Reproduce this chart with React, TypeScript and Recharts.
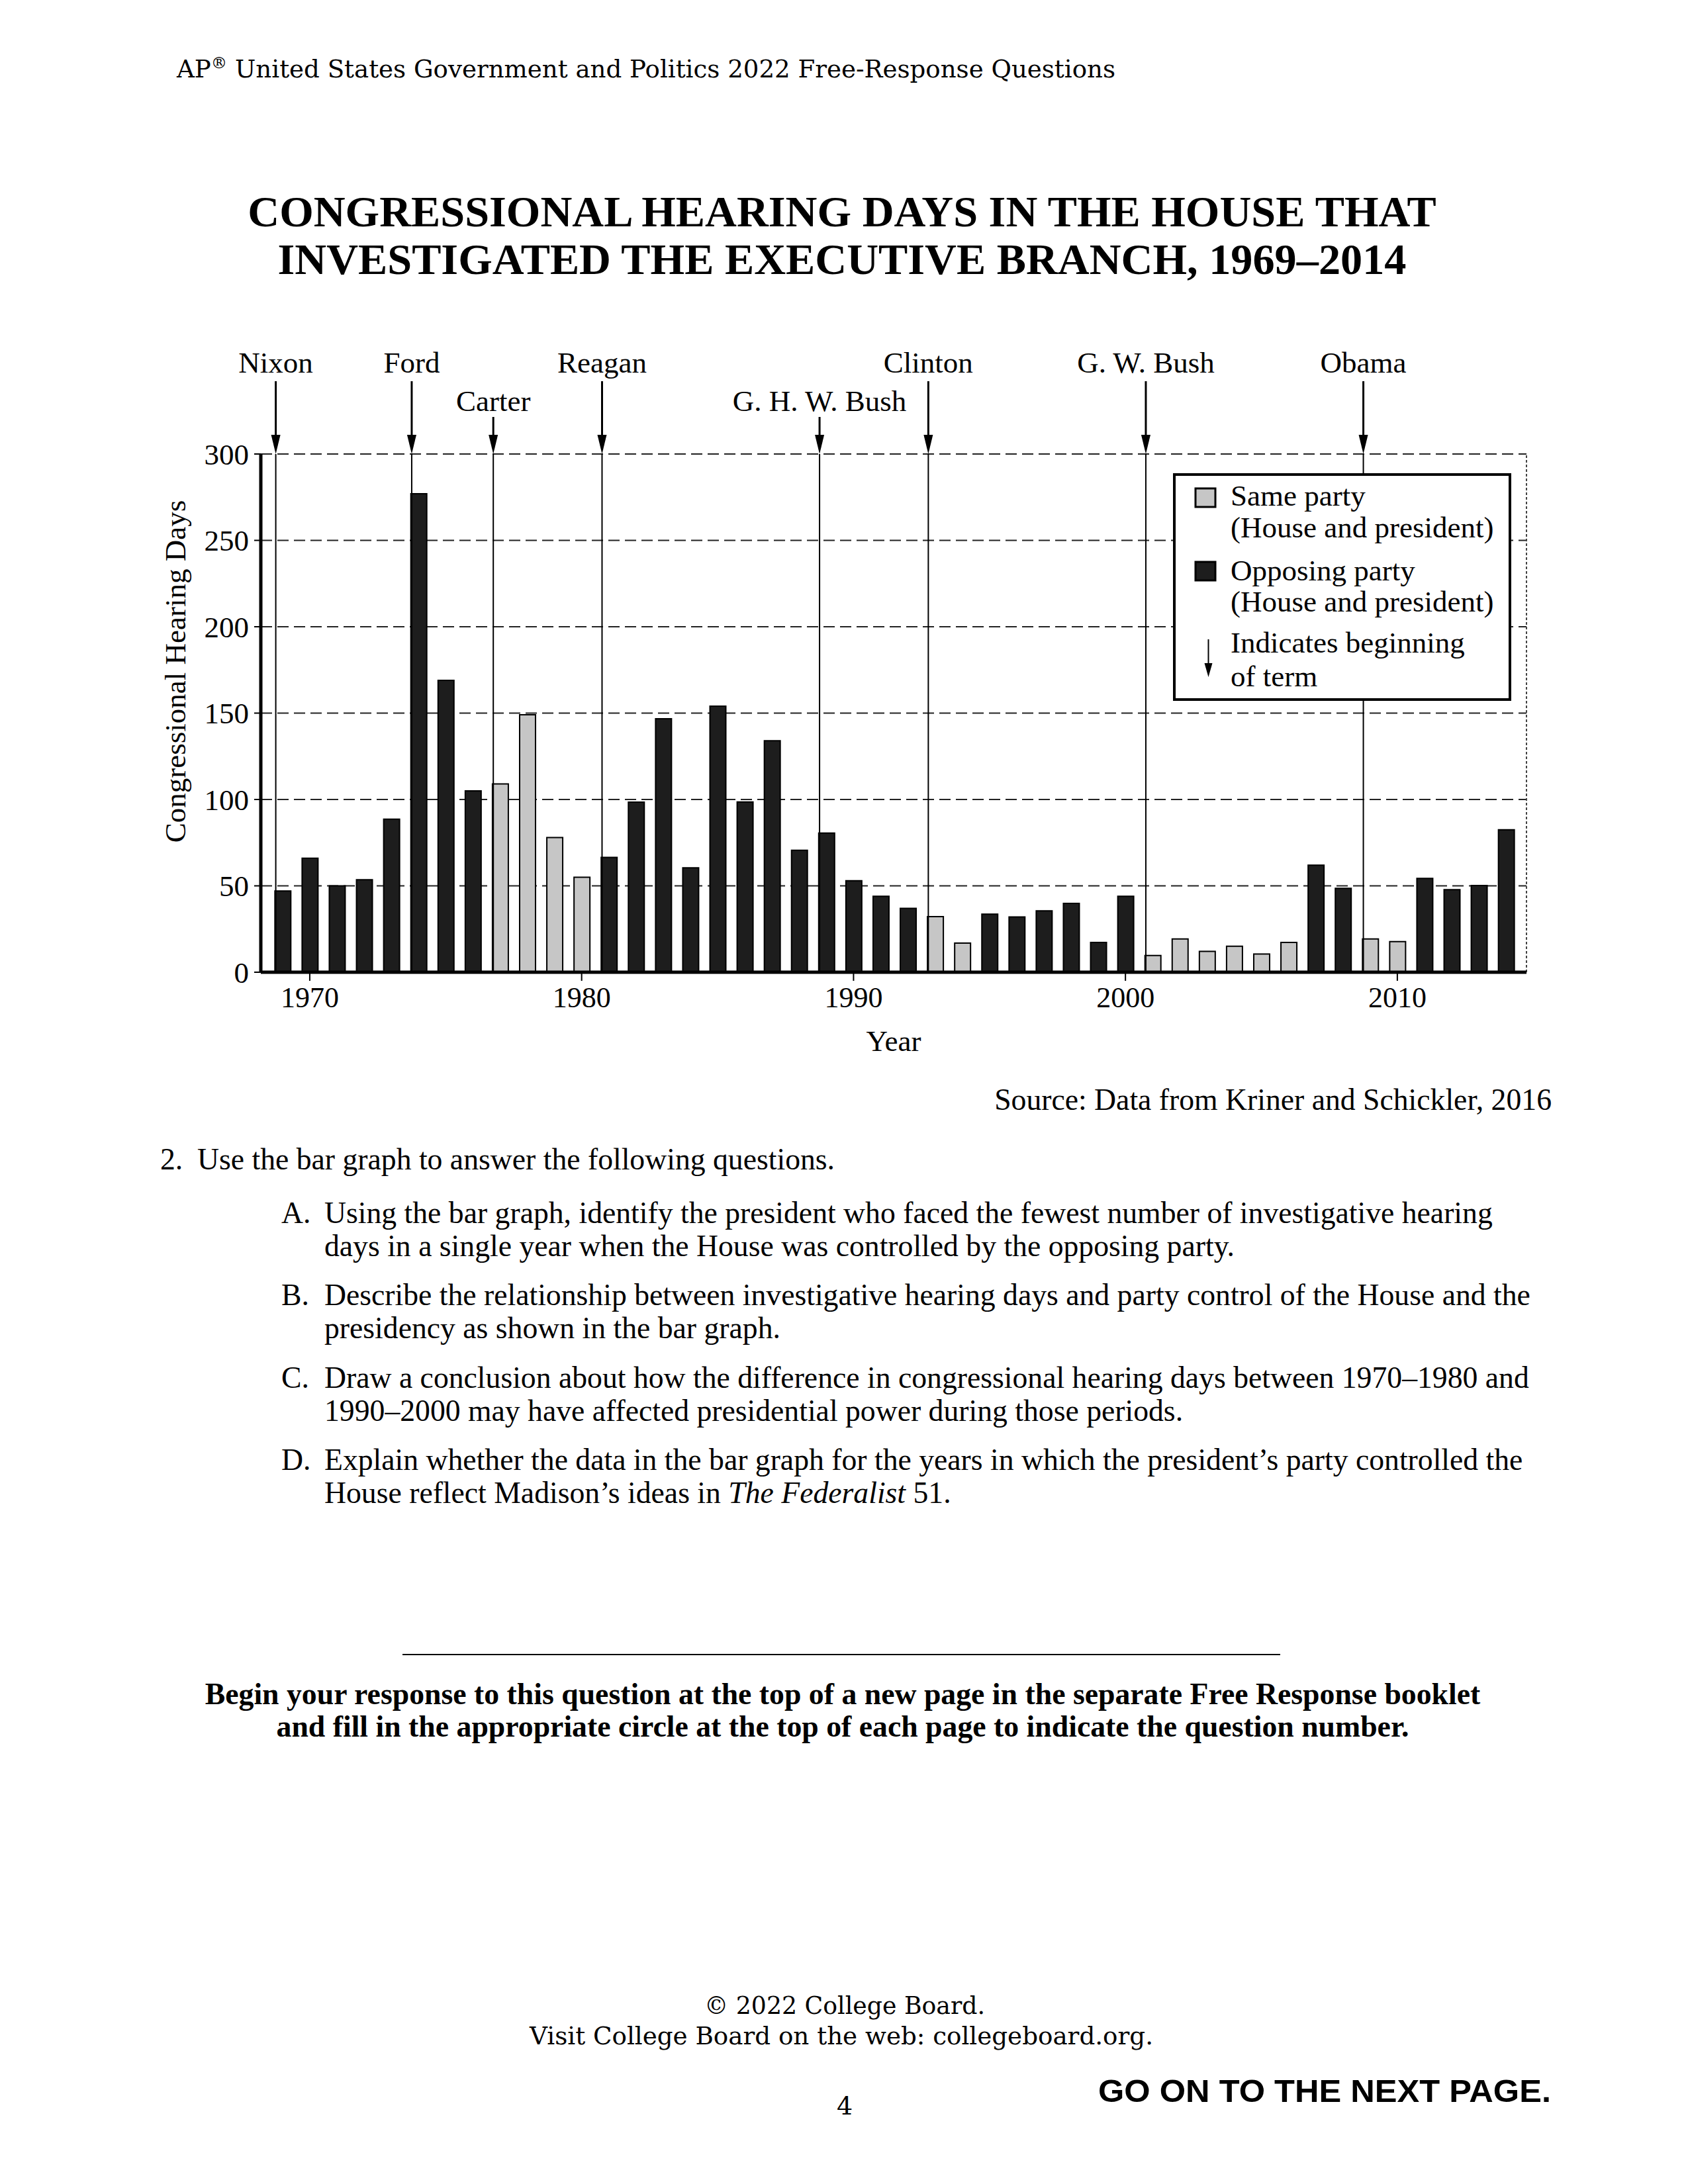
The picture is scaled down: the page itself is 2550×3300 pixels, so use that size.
import React from 'react';
import { BarChart, Bar, XAxis, YAxis, CartesianGrid, ReferenceLine, Cell } from 'recharts';

const FONT = '"Liberation Serif", "Times New Roman", serif';
const SLAB = '"DejaVu Serif", serif';
const SANS = '"Liberation Sans", Arial, sans-serif';

const years = [
  1969, 1970, 1971, 1972, 1973, 1974, 1975, 1976, 1977, 1978, 1979, 1980,
  1981, 1982, 1983, 1984, 1985, 1986, 1987, 1988, 1989, 1990, 1991, 1992,
  1993, 1994, 1995, 1996, 1997, 1998, 1999, 2000, 2001, 2002, 2003, 2004,
  2005, 2006, 2007, 2008, 2009, 2010, 2011, 2012, 2013, 2014,
];

const hearingDays = [
  47, 66, 50, 53.5, 88.6, 277, 169, 105, 109, 149, 78, 55,
  66.5, 98.5, 146.7, 60.4, 154, 98.6, 134, 70.6, 80.6, 53, 44, 37,
  32.2, 16.9, 33.6, 32, 35.5, 39.8, 17.2, 44, 9.7, 19.3, 12.1, 15,
  10.5, 17.2, 62, 48.6, 19.3, 17.7, 54.3, 47.8, 50.2, 82.5,
];

// 'S' = same party (House and president), 'O' = opposing party
const houseControl = [
  'O', 'O', 'O', 'O', 'O', 'O', 'O', 'O', 'S', 'S', 'S', 'S',
  'O', 'O', 'O', 'O', 'O', 'O', 'O', 'O', 'O', 'O', 'O', 'O',
  'S', 'S', 'O', 'O', 'O', 'O', 'O', 'O', 'S', 'S', 'S', 'S',
  'S', 'S', 'O', 'O', 'S', 'S', 'O', 'O', 'O', 'O',
];

const presidentNames = ['Nixon', 'Ford', 'Carter', 'Reagan', 'G. H. W. Bush', 'Clinton', 'G. W. Bush', 'Obama'];
const termStarts = [1968.75, 1973.75, 1976.75, 1980.75, 1988.75, 1992.75, 2000.75, 2008.75];
const labelRows = [0, 0, 1, 0, 1, 0, 0, 0];

const yTicks = [0, 50, 100, 150, 200, 250, 300];
const xTicks = [1970, 1980, 1990, 2000, 2010];

const SAME_FILL = '#c6c6c6';
const OPP_FILL = '#1d1d1d';

const chartData = years.map((year, i) => ({ year, days: hearingDays[i], control: houseControl[i] }));

function PresidentMarker(props: any) {
  const { viewBox, name, row } = props;
  if (!viewBox) return null;
  const x = viewBox.x;
  const y = viewBox.y;
  const textY = row === 0 ? y - 123 : y - 65;
  const shaftTop = row === 0 ? y - 110 : y - 56;
  return (
    <g>
      <text x={x} y={textY} textAnchor="middle" fontFamily={FONT} fontSize={45} fill="#000">
        {name}
      </text>
      <line x1={x} x2={x} y1={shaftTop} y2={y - 24} stroke="#000" strokeWidth={3} />
      <polygon points={`${x - 7},${y - 29} ${x + 7},${y - 29} ${x},${y}`} fill="#000" />
    </g>
  );
}

function YTitle(props: any) {
  const { viewBox } = props;
  if (!viewBox) return null;
  const bx = viewBox.x + 6;
  const cy = viewBox.y + viewBox.height / 2 - 63;
  return (
    <text
      x={bx}
      y={cy}
      transform={`rotate(-90, ${bx}, ${cy})`}
      textAnchor="middle"
      fontFamily={FONT}
      fontSize={45}
      fill="#000"
    >
      Congressional Hearing Days
    </text>
  );
}

function XTitle(props: any) {
  const { viewBox } = props;
  if (!viewBox) return null;
  return (
    <text
      x={viewBox.x + viewBox.width / 2}
      y={viewBox.y + 119}
      textAnchor="middle"
      fontFamily={FONT}
      fontSize={45}
      fill="#000"
    >
      Year
    </text>
  );
}

function LegendBox() {
  return (
    <div
      style={{
        position: 'absolute',
        left: 1772,
        top: 715,
        width: 511,
        height: 344,
        boxSizing: 'border-box',
        border: '4px solid #000',
        background: '#fff',
      }}
    >
      <svg width={503} height={336} style={{ position: 'absolute', left: 0, top: 0 }}>
        <rect x={30} y={19} width={30} height={28} fill={SAME_FILL} stroke="#000" strokeWidth={3} />
        <text x={83} y={45} fontFamily={FONT} fontSize={45} fill="#000">Same party</text>
        <text x={83} y={93} fontFamily={FONT} fontSize={45} fill="#000">(House and president)</text>
        <rect x={30} y={130} width={30} height={28} fill={OPP_FILL} stroke="#000" strokeWidth={3} />
        <text x={83} y={158} fontFamily={FONT} fontSize={45} fill="#000">Opposing party</text>
        <text x={83} y={205} fontFamily={FONT} fontSize={45} fill="#000">(House and president)</text>
        <line x1={49.5} x2={49.5} y1={247} y2={288} stroke="#000" strokeWidth={2} />
        <polygon points="43.5,283 55.5,283 49.5,304" fill="#000" />
        <text x={83} y={267} fontFamily={FONT} fontSize={45} fill="#000">Indicates beginning</text>
        <text x={83} y={318} fontFamily={FONT} fontSize={45} fill="#000">of term</text>
      </svg>
    </div>
  );
}

function PageText() {
  const body = { fontFamily: FONT, fontSize: 45.7, fill: '#000' } as any;
  return (
    <svg width={2550} height={3300} style={{ position: 'absolute', left: 0, top: 0 }}>
      <text x={267} y={117} fontFamily={SLAB} fontSize={38} fill="#000" textLength={1418} lengthAdjust="spacingAndGlyphs">
        AP<tspan fontSize={25} dy={-14}>®</tspan>
        <tspan dy={14}> United States Government and Politics 2022 Free-Response Questions</tspan>
      </text>

      <text x={1272} y={342} textAnchor="middle" fontFamily={FONT} fontWeight="bold" fontSize={66.3} fill="#000">
        CONGRESSIONAL HEARING DAYS IN THE HOUSE THAT
      </text>
      <text x={1272} y={414} textAnchor="middle" fontFamily={FONT} fontWeight="bold" fontSize={66.3} fill="#000">
        INVESTIGATED THE EXECUTIVE BRANCH, 1969–2014
      </text>

      <text x={2344} y={1677} textAnchor="end" {...body}>Source: Data from Kriner and Schickler, 2016</text>

      <text x={242} y={1767} {...body}>2.</text>
      <text x={298} y={1767} {...body}>Use the bar graph to answer the following questions.</text>

      <text x={425} y={1848} {...body}>A.</text>
      <text x={490} y={1848} {...body}>Using the bar graph, identify the president who faced the fewest number of investigative hearing</text>
      <text x={490} y={1898} {...body}>days in a single year when the House was controlled by the opposing party.</text>

      <text x={425} y={1972} {...body}>B.</text>
      <text x={490} y={1972} {...body}>Describe the relationship between investigative hearing days and party control of the House and the</text>
      <text x={490} y={2022} {...body}>presidency as shown in the bar graph.</text>

      <text x={425} y={2097} {...body}>C.</text>
      <text x={490} y={2097} {...body}>Draw a conclusion about how the difference in congressional hearing days between 1970–1980 and</text>
      <text x={490} y={2147} {...body}>1990–2000 may have affected presidential power during those periods.</text>

      <text x={425} y={2221} {...body}>D.</text>
      <text x={490} y={2221} {...body}>Explain whether the data in the bar graph for the years in which the president’s party controlled the</text>
      <text x={490} y={2271} {...body}>
        House reflect Madison’s ideas in <tspan fontStyle="italic">The Federalist</tspan> 51.
      </text>

      <line x1={608} x2={1934} y1={2500} y2={2500} stroke="#000" strokeWidth={2} />

      <text x={1273} y={2575} textAnchor="middle" fontFamily={FONT} fontWeight="bold" fontSize={45.75} fill="#000">
        Begin your response to this question at the top of a new page in the separate Free Response booklet
      </text>
      <text x={1273} y={2624} textAnchor="middle" fontFamily={FONT} fontWeight="bold" fontSize={45.75} fill="#000">
        and fill in the appropriate circle at the top of each page to indicate the question number.
      </text>

      <text x={1276} y={3043} textAnchor="middle" fontFamily={SLAB} fontSize={37} fill="#000" textLength={424} lengthAdjust="spacingAndGlyphs">
        © 2022 College Board.
      </text>
      <text x={1271} y={3089} textAnchor="middle" fontFamily={SLAB} fontSize={37} fill="#000" textLength={942} lengthAdjust="spacingAndGlyphs">
        Visit College Board on the web: collegeboard.org.
      </text>
      <text x={1276} y={3195} textAnchor="middle" fontFamily={SLAB} fontSize={38} fill="#000">4</text>
      <text x={2343} y={3176} textAnchor="end" fontFamily={SANS} fontWeight="bold" fontSize={49} fill="#000" textLength={684} lengthAdjust="spacingAndGlyphs">
        GO ON TO THE NEXT PAGE.
      </text>
    </svg>
  );
}

export default function App() {
  return (
    <div style={{ position: 'absolute', left: 0, top: 0, width: 2550, height: 3300, overflow: 'hidden', background: '#fff' }}>
      <PageText />
      <div style={{ position: 'absolute', left: 200, top: 480 }}>
        <BarChart
          width={2200}
          height={1220}
          data={chartData}
          margin={{ top: 206, right: 94, bottom: 111, left: 74 }}
        >
          <CartesianGrid vertical={false} stroke="#222" strokeWidth={2} strokeDasharray="17 8" />
          <XAxis
            dataKey="year"
            type="number"
            domain={[1968.2, 2014.75]}
            ticks={xTicks}
            allowDataOverflow
            height={120}
            axisLine={{ stroke: '#000', strokeWidth: 5 }}
            tickLine={{ stroke: '#000', strokeWidth: 2 }}
            tickSize={13}
            tickMargin={9}
            tick={{ fontSize: 44, fill: '#000', fontFamily: FONT }}
            label={<XTitle />}
          />
          <YAxis
            domain={[0, 300]}
            ticks={yTicks}
            width={120}
            allowDataOverflow
            axisLine={{ stroke: '#000', strokeWidth: 5 }}
            tickLine={{ stroke: '#000', strokeWidth: 2 }}
            tickSize={10}
            tickMargin={8}
            tick={{ fontSize: 45, fill: '#000', fontFamily: FONT }}
            label={<YTitle />}
          />
          <ReferenceLine x={2014.75} stroke="#444" strokeWidth={2} strokeDasharray="4 3" />
          {termStarts.map((t, i) => (
            <ReferenceLine
              key={presidentNames[i]}
              x={t}
              stroke="#000"
              strokeWidth={2}
              label={<PresidentMarker name={presidentNames[i]} row={labelRows[i]} />}
            />
          ))}
          <Bar dataKey="days" barSize={24} stroke="#000" strokeWidth={2} isAnimationActive={false}>
            {chartData.map((d) => (
              <Cell key={d.year} fill={d.control === 'S' ? SAME_FILL : OPP_FILL} />
            ))}
          </Bar>
        </BarChart>
      </div>
      <LegendBox />
    </div>
  );
}
